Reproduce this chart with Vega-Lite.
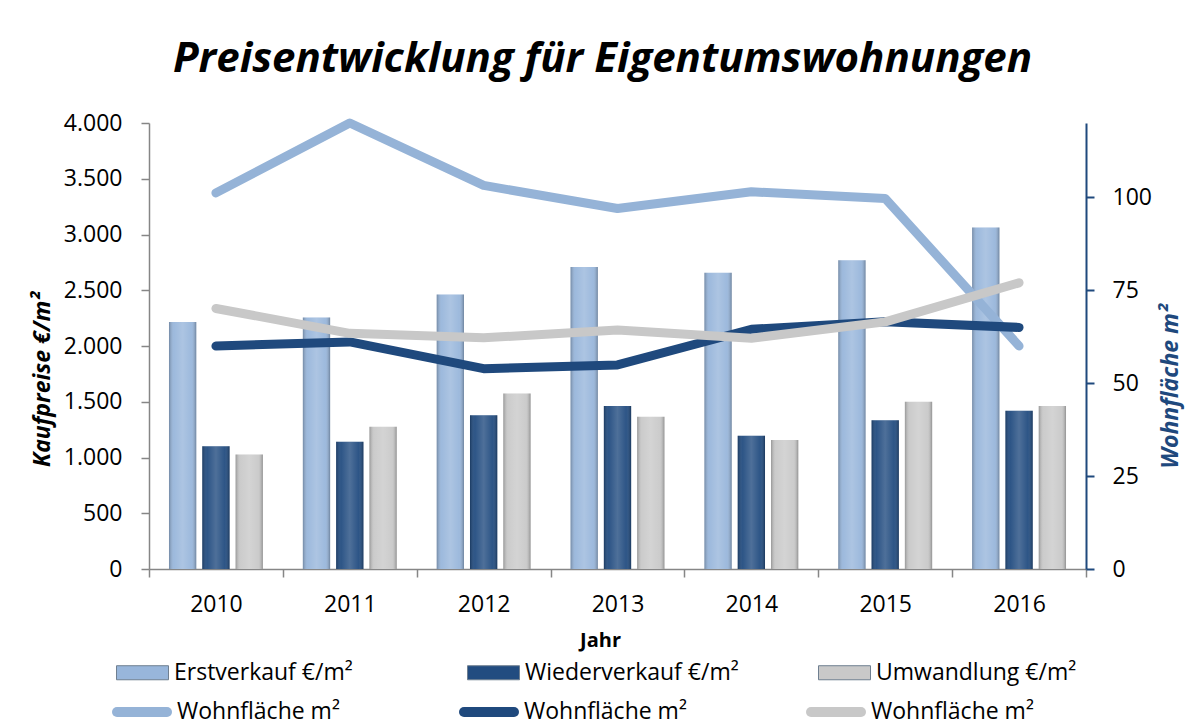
{
  "$schema": "https://vega.github.io/schema/vega-lite/v6.json",
  "width": 937,
  "height": 446,
  "autosize": {"type": "none"},
  "padding": {"left": 149, "top": 123, "right": 104, "bottom": 156},
  "background": "white",
  "config": {"view": {"stroke": null}},
  "title": {
    "text": "Preisentwicklung für Eigentumswohnungen",
    "font": "Open Sans",
    "fontSize": 42,
    "fontStyle": "italic",
    "fontWeight": "bold",
    "color": "#000000",
    "anchor": "middle",
    "dx": -15,
    "offset": -2,
    "baseline": "alphabetic"
  },
  "datasets": {
    "bars": [
      {"Jahr": "2010", "Serie": "Erstverkauf €/m²", "Preis": 2216},
      {"Jahr": "2010", "Serie": "Wiederverkauf €/m²", "Preis": 1102},
      {"Jahr": "2010", "Serie": "Umwandlung €/m²", "Preis": 1027},
      {"Jahr": "2011", "Serie": "Erstverkauf €/m²", "Preis": 2255},
      {"Jahr": "2011", "Serie": "Wiederverkauf €/m²", "Preis": 1141},
      {"Jahr": "2011", "Serie": "Umwandlung €/m²", "Preis": 1275},
      {"Jahr": "2012", "Serie": "Erstverkauf €/m²", "Preis": 2461},
      {"Jahr": "2012", "Serie": "Wiederverkauf €/m²", "Preis": 1380},
      {"Jahr": "2012", "Serie": "Umwandlung €/m²", "Preis": 1574},
      {"Jahr": "2013", "Serie": "Erstverkauf €/m²", "Preis": 2709},
      {"Jahr": "2013", "Serie": "Wiederverkauf €/m²", "Preis": 1461},
      {"Jahr": "2013", "Serie": "Umwandlung €/m²", "Preis": 1365},
      {"Jahr": "2014", "Serie": "Erstverkauf €/m²", "Preis": 2658},
      {"Jahr": "2014", "Serie": "Wiederverkauf €/m²", "Preis": 1195},
      {"Jahr": "2014", "Serie": "Umwandlung €/m²", "Preis": 1156},
      {"Jahr": "2015", "Serie": "Erstverkauf €/m²", "Preis": 2769},
      {"Jahr": "2015", "Serie": "Wiederverkauf €/m²", "Preis": 1335},
      {"Jahr": "2015", "Serie": "Umwandlung €/m²", "Preis": 1499},
      {"Jahr": "2016", "Serie": "Erstverkauf €/m²", "Preis": 3062},
      {"Jahr": "2016", "Serie": "Wiederverkauf €/m²", "Preis": 1419},
      {"Jahr": "2016", "Serie": "Umwandlung €/m²", "Preis": 1461}
    ],
    "lines": [
      {"Jahr": "2010", "Serie": "Wohnfläche m²", "Flaeche": 101.2},
      {"Jahr": "2011", "Serie": "Wohnfläche m²", "Flaeche": 120},
      {"Jahr": "2012", "Serie": "Wohnfläche m²", "Flaeche": 103.2},
      {"Jahr": "2013", "Serie": "Wohnfläche m²", "Flaeche": 97.0},
      {"Jahr": "2014", "Serie": "Wohnfläche m²", "Flaeche": 101.5},
      {"Jahr": "2015", "Serie": "Wohnfläche m²", "Flaeche": 99.7},
      {"Jahr": "2016", "Serie": "Wohnfläche m²", "Flaeche": 60.0},
      {"Jahr": "2010", "Serie": "Wohnfläche m² ", "Flaeche": 60.0},
      {"Jahr": "2011", "Serie": "Wohnfläche m² ", "Flaeche": 61.1},
      {"Jahr": "2012", "Serie": "Wohnfläche m² ", "Flaeche": 53.9},
      {"Jahr": "2013", "Serie": "Wohnfläche m² ", "Flaeche": 54.9},
      {"Jahr": "2014", "Serie": "Wohnfläche m² ", "Flaeche": 64.5},
      {"Jahr": "2015", "Serie": "Wohnfläche m² ", "Flaeche": 66.5},
      {"Jahr": "2016", "Serie": "Wohnfläche m² ", "Flaeche": 65.0},
      {"Jahr": "2010", "Serie": "Wohnfläche m²  ", "Flaeche": 70.1},
      {"Jahr": "2011", "Serie": "Wohnfläche m²  ", "Flaeche": 63.4},
      {"Jahr": "2012", "Serie": "Wohnfläche m²  ", "Flaeche": 62.2},
      {"Jahr": "2013", "Serie": "Wohnfläche m²  ", "Flaeche": 64.3},
      {"Jahr": "2014", "Serie": "Wohnfläche m²  ", "Flaeche": 62.1},
      {"Jahr": "2015", "Serie": "Wohnfläche m²  ", "Flaeche": 66.5},
      {"Jahr": "2016", "Serie": "Wohnfläche m²  ", "Flaeche": 77.0}
    ]
  },
  "layer": [
    {
      "data": {"name": "bars"},
      "mark": {"type": "bar"},
      "encoding": {
        "x": {
          "field": "Jahr",
          "type": "nominal",
          "scale": {"paddingInner": 0, "paddingOuter": 0},
          "axis": {
            "title": "Jahr",
            "titleFont": "Open Sans",
            "titleFontSize": 20,
            "titleFontWeight": "bold",
            "titleColor": "#000000",
            "titleX": 451,
            "titleY": 71,
            "titleBaseline": "middle",
            "titleAlign": "center",
            "labelAngle": 0,
            "labelFont": "Open Sans",
            "labelFontSize": 23,
            "labelColor": "#000000",
            "labelPadding": 16,
            "tickSize": 8,
            "tickWidth": 1.5,
            "tickColor": "#868686",
            "domainColor": "#868686",
            "domainWidth": 1.5,
            "tickBand": "extent"
          }
        },
        "xOffset": {
          "field": "Serie",
          "type": "nominal",
          "scale": {"domain": ["Erstverkauf €/m²", "Wiederverkauf €/m²", "Umwandlung €/m²"], "paddingInner": 0.18, "paddingOuter": 0.6}
        },
        "y": {
          "field": "Preis",
          "type": "quantitative",
          "scale": {"domain": [0, 4000], "nice": false},
          "axis": {
            "orient": "left",
            "values": [0, 500, 1000, 1500, 2000, 2500, 3000, 3500, 4000],
            "labelExpr": "replace(format(datum.value, ','), ',', '.')",
            "grid": false,
            "title": "Kaufpreise €/m²",
            "titleFont": "Open Sans",
            "titleFontSize": 23,
            "titleFontWeight": "bold",
            "titleFontStyle": "italic",
            "titleColor": "#000000",
            "titleAngle": 270,
            "titleX": -107,
            "titleY": 256,
            "titleAlign": "center",
            "titleBaseline": "middle",
            "labelFont": "Open Sans",
            "labelFontSize": 23,
            "labelColor": "#000000",
            "labelPadding": 19,
            "tickSize": 8,
            "tickWidth": 1.5,
            "tickColor": "#868686",
            "domainColor": "#868686",
            "domainWidth": 1.5
          }
        },
        "fill": {
          "field": "Serie",
          "type": "nominal",
          "scale": {
            "domain": ["Erstverkauf €/m²", "Wiederverkauf €/m²", "Umwandlung €/m²"],
            "range": ["#98B6DB", "#224C80", "#C9C9C9"]
          },
          "legend": {
            "orient": "none",
            "legendX": -33,
            "legendY": 523,
            "direction": "horizontal",
            "columns": 3,
            "title": null,
            "padding": 0,
            "symbolType": "M-1,-0.27H1V0.27H-1Z",
            "symbolSize": 2704,
            "symbolStrokeWidth": 1,
            "symbolStrokeColor": "#6f7f90",
            "labelFont": "Open Sans",
            "labelFontSize": 23,
            "labelColor": "#000000",
            "labelOffset": 5,
            "labelLimit": 400,
            "columnPadding": 77,
            "gridAlign": "all"
          }
        }
      }
    },
    {
      "data": {"name": "bars"},
      "mark": {
        "type": "bar",
        "fill": {
          "gradient": "linear",
          "x1": 0, "y1": 0, "x2": 1, "y2": 0,
          "stops": [
            {"offset": 0, "color": "rgba(0,0,0,0.25)"},
            {"offset": 0.18, "color": "rgba(255,255,255,0.05)"},
            {"offset": 0.5, "color": "rgba(255,255,255,0.2)"},
            {"offset": 0.82, "color": "rgba(255,255,255,0.05)"},
            {"offset": 1, "color": "rgba(0,0,0,0.28)"}
          ]
        }
      },
      "encoding": {
        "x": {"field": "Jahr", "type": "nominal"},
        "xOffset": {"field": "Serie", "type": "nominal"},
        "y": {"field": "Preis", "type": "quantitative", "scale": {"domain": [0, 4000], "nice": false}, "axis": null}
      }
    },
    {
      "data": {"name": "lines"},
      "mark": {"type": "line", "strokeWidth": 9, "strokeCap": "round", "strokeJoin": "round"},
      "encoding": {
        "x": {"field": "Jahr", "type": "nominal"},
        "y": {
          "field": "Flaeche",
          "type": "quantitative",
          "scale": {"domain": [0, 120], "nice": false},
          "axis": {
            "orient": "right",
            "values": [0, 25, 50, 75, 100],
            "grid": false,
            "title": "Wohnfläche m²",
            "titleFont": "Open Sans",
            "titleFontSize": 23,
            "titleFontWeight": "bold",
            "titleFontStyle": "italic",
            "titleColor": "#1F497D",
            "titleAngle": 270,
            "titleX": 84,
            "titleY": 263,
            "titleAlign": "center",
            "titleBaseline": "middle",
            "labelFont": "Open Sans",
            "labelFontSize": 23,
            "labelColor": "#000000",
            "labelPadding": 18,
            "tickSize": 8,
            "tickWidth": 2,
            "tickColor": "#1F497D",
            "domainColor": "#1F497D",
            "domainWidth": 2
          }
        },
        "stroke": {
          "field": "Serie",
          "type": "nominal",
          "scale": {
            "domain": ["Wohnfläche m²", "Wohnfläche m² ", "Wohnfläche m²  "],
            "range": ["#95B3D7", "#1F497D", "#C8C8C8"]
          },
          "legend": {
            "orient": "none",
            "legendX": -37,
            "legendY": 559,
            "direction": "horizontal",
            "columns": 3,
            "title": null,
            "padding": 0,
            "symbolType": "stroke",
            "symbolSize": 2500,
            "symbolStrokeWidth": 10,
            "labelExpr": "trim(datum.label)",
            "labelFont": "Open Sans",
            "labelFontSize": 23,
            "labelColor": "#000000",
            "labelOffset": 5,
            "labelLimit": 400,
            "columnPadding": 104,
            "gridAlign": "all",
            "encode": {"symbols": {"update": {"strokeCap": {"value": "round"}}}}
          }
        }
      }
    }
  ],
  "resolve": {"scale": {"y": "independent"}}
}
